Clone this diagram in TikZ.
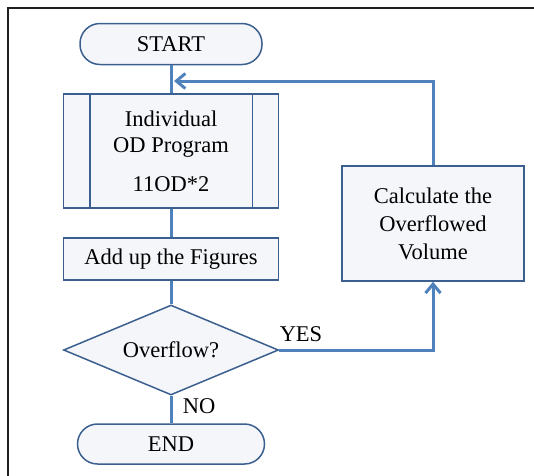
\documentclass[tikz,border=0pt]{standalone}
\usepackage{fontspec}
\setmainfont{Liberation Serif}
\usetikzlibrary{shapes.geometric,arrows.meta,calc}
\definecolor{conn}{HTML}{4F81BD}
\definecolor{edge}{HTML}{3B5F8F}
\definecolor{boxfill}{HTML}{F4F6FA}
\definecolor{frame}{HTML}{202020}
\tikzset{
  base/.style={draw=edge, line width=1.5pt, fill=boxfill, font=\fontsize{22.5}{26}\selectfont, align=center, inner sep=0pt},
  terminal/.style={base, rectangle, rounded corners=20pt, minimum height=41pt},
  procbox/.style={base, rectangle},
  decision/.style={base, diamond, aspect=2.39, minimum width=215pt, minimum height=90pt},
  conline/.style={draw=conn, line width=3pt},
  conarrow/.style={conline, -{Straight Barb[length=9pt,width=15pt,line width=3pt]}},
  lbl/.style={font=\fontsize{22.5}{26}\selectfont, inner sep=0pt}
}
\begin{document}
\begin{tikzpicture}[x=1pt,y=-1pt]
\useasboundingbox (0,0) rectangle (534,475);
\draw[frame, line width=2pt] (8,480) -- (8,8) -- (540,8);

\node[terminal, minimum width=182pt] (start) at (171,44) {START};
\node[procbox, minimum width=215pt, minimum height=114pt] (proc) at (171,151)
  {Individual\\OD Program\\[13pt]11OD*2};
\draw[edge, line width=1.5pt] ($(proc.north west)+(27,0)$) -- ($(proc.south west)+(27,0)$);
\draw[edge, line width=1.5pt] ($(proc.north east)+(-27,0)$) -- ($(proc.south east)+(-27,0)$);
\node[procbox, minimum width=215pt, minimum height=42pt] (add) at (171,259) {Add up the Figures};
\node[decision] (dec) at (171,350) {Overflow?};
\node[terminal, minimum width=187pt, minimum height=40pt] (end) at (171,444) {END};
\node[procbox, minimum width=182pt, minimum height=115pt, font=\fontsize{22.5}{28}\selectfont] (calc) at (433,223.5)
  {Calculate the\\Overflowed\\Volume};

\coordinate (loopIn) at (174,81);

\draw[conline] (start.south) -- (proc.north);
\draw[conline] (proc.south) -- (add.north);
\draw[conline] (add.south) -- (dec.north);
\draw[conline] (dec.south) -- (end.north);
\draw[conarrow] (dec.east) -| (calc.south);
\draw[conarrow] (calc.north) |- (loopIn);

\node[lbl] (yes) at (301,334) {YES};
\node[lbl] (no) at (199,406) {NO};
\end{tikzpicture}
\end{document}
